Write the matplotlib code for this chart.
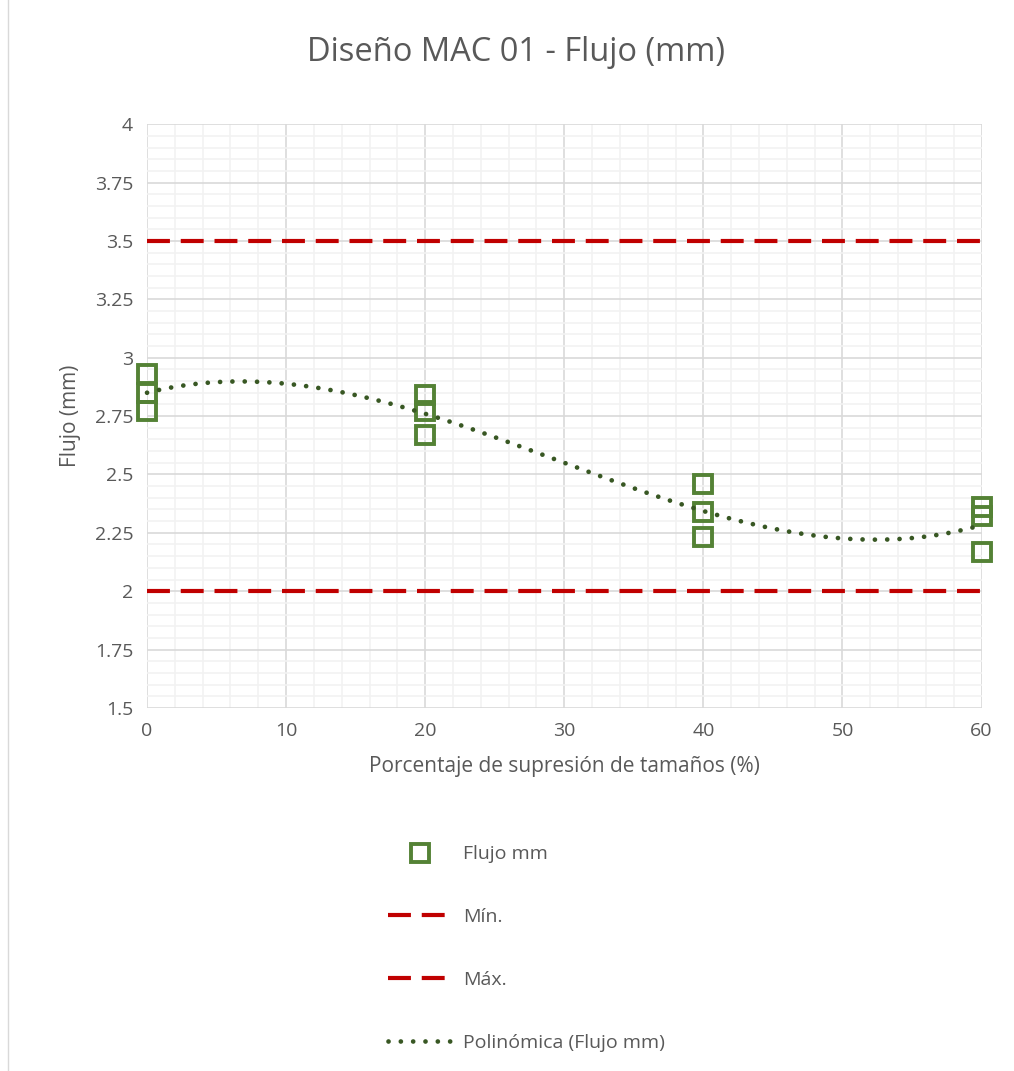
import numpy as np
import matplotlib.pyplot as plt
from matplotlib.patches import Rectangle

plt.rcParams['font.family'] = ['Open Sans', 'DejaVu Sans']

# datos
pct = [0, 0, 0, 20, 20, 20, 40, 40, 40, 60, 60, 60]
flujo = [2.93, 2.85, 2.77, 2.84, 2.77, 2.67, 2.46, 2.34, 2.23, 2.36, 2.32, 2.17]
lim_min = 2.0
lim_max = 3.5
x_ticks = [0, 10, 20, 30, 40, 50, 60]
y_ticks = [1.5, 1.75, 2, 2.25, 2.5, 2.75, 3, 3.25, 3.5, 3.75, 4]
y_labels = ['1.5', '1.75', '2', '2.25', '2.5', '2.75', '3', '3.25', '3.5', '3.75', '4']

gris = '#595959'
rojo = '#C00000'

fig = plt.figure(figsize=(10.14, 10.71), dpi=100)
fig.patches.append(Rectangle((0.008, -0.01), 1.2, 1.2, transform=fig.transFigure,
                             fill=False, edgecolor='#D9D9D9', lw=1))
ax = fig.add_axes([0.145, 0.339, 0.823, 0.545])

# linea de tendencia polinomica (orden 3)
coef = np.polyfit(pct, flujo, 3)
xs = np.linspace(0, 60, 300)
ax.plot(xs, np.polyval(coef, xs), color='#385723', lw=3.4,
        dashes=(0.01, 2.6), dash_capstyle='round', zorder=5, clip_on=False,
        label='Polinómica (Flujo mm)')

ax.plot(pct, flujo, ls='none', marker='s', ms=12.5, mfc='none', mec='#548235',
        mew=2.8, zorder=4, clip_on=False, label='Flujo mm')
ax.plot([0, 60], [lim_min, lim_min], color=rojo, lw=3, dashes=(5.5, 2.6),
        zorder=2, label='Mín.')
ax.plot([0, 60], [lim_max, lim_max], color=rojo, lw=3, dashes=(5.5, 2.6),
        zorder=2, label='Máx.')

ax.set_xlim(0, 60)
ax.set_ylim(1.5, 4)
ax.set_xticks(x_ticks)
ax.set_yticks(y_ticks)
ax.set_yticklabels(y_labels)
ax.set_xticks(np.arange(0, 61, 2), minor=True)
ax.set_yticks(np.arange(1.5, 4.001, 0.05), minor=True)
ax.grid(which='major', color='#D9D9D9', lw=1.2)
ax.grid(which='minor', color='#F2F2F2', lw=1.2)
ax.set_axisbelow(True)
for s in ax.spines.values():
    s.set_visible(False)
ax.tick_params(which='both', length=0, labelsize=14, colors=gris, pad=10)

ax.set_xlabel('Porcentaje de supresión de tamaños (%)', fontsize=15, color=gris, labelpad=12)
ax.set_ylabel('Flujo (mm)', fontsize=15, color=gris, labelpad=10)
fig.text(0.509, 0.951, 'Diseño MAC 01 - Flujo (mm)', fontsize=23.5, color=gris,
         ha='center', va='center')

h, l = ax.get_legend_handles_labels()
orden = [1, 2, 3, 0]
leg = fig.legend([h[i] for i in orden], [l[i] for i in orden],
                 loc='upper left', bbox_to_anchor=(0.365, 0.227), frameon=False,
                 fontsize=14, labelspacing=2.3, handlelength=3.3, handletextpad=0.6,
                 labelcolor=gris)

fig.savefig('out.png', dpi=100)
